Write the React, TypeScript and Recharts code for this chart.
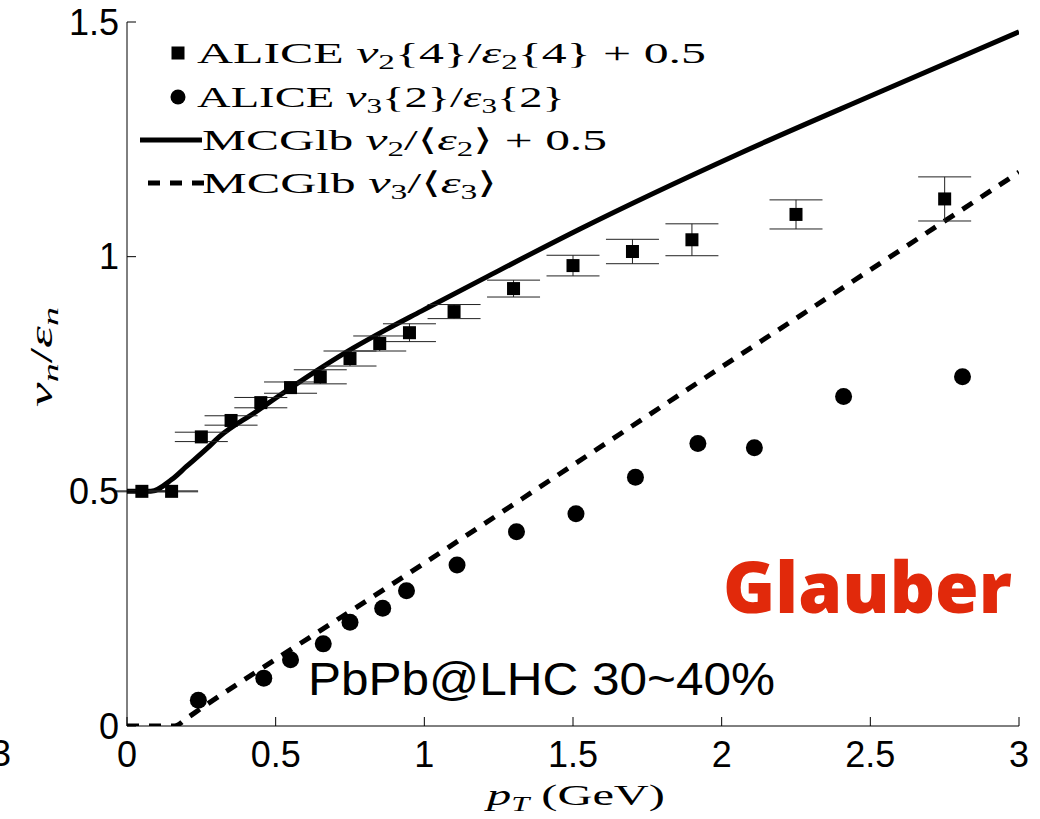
import { ComposedChart, Line, Scatter, XAxis, YAxis, ErrorBar } from 'recharts'

// ALICE v2{4}/eps2{4} + 0.5 (squares)
const v2Pt = [0.05, 0.15, 0.25, 0.35, 0.45, 0.55, 0.65, 0.75, 0.85, 0.95, 1.1, 1.3, 1.5, 1.7, 1.9, 2.25, 2.75]
const v2Ratio = [0.5, 0.5, 0.616, 0.651, 0.689, 0.721, 0.744, 0.783, 0.815, 0.838, 0.883, 0.932, 0.981, 1.011, 1.036, 1.09, 1.123]
const v2Err = [0.001, 0.001, 0.01, 0.01, 0.011, 0.012, 0.015, 0.016, 0.016, 0.019, 0.015, 0.018, 0.022, 0.026, 0.034, 0.031, 0.047]

// ALICE v3{2}/eps3{2} (circles)
const v3Pt = [0.24, 0.46, 0.55, 0.66, 0.75, 0.86, 0.94, 1.11, 1.31, 1.51, 1.71, 1.92, 2.11, 2.41, 2.81]
const v3Ratio = [0.055, 0.102, 0.141, 0.175, 0.221, 0.251, 0.288, 0.343, 0.414, 0.452, 0.53, 0.602, 0.593, 0.702, 0.744]

// MC-Glauber hydro curves
const mcV2Pt = [0, 0.08, 0.15, 0.2, 0.27, 0.31, 0.43, 0.54, 0.65, 0.76, 0.87, 0.99, 1.21, 1.52, 2.06, 2.51, 3.0]
const mcV2Ratio = [0.5, 0.5, 0.525, 0.553, 0.592, 0.616, 0.668, 0.716, 0.762, 0.805, 0.844, 0.884, 0.957, 1.058, 1.22, 1.345, 1.479]
const mcV3Pt = [0, 0.16, 0.2, 0.25, 0.5, 0.75, 1.0, 1.5, 2.0, 2.5, 3.0]
const mcV3Ratio = [0, 0, 0.016, 0.038, 0.142, 0.244, 0.347, 0.556, 0.765, 0.972, 1.18]

const xTicks = [0, 0.5, 1, 1.5, 2, 2.5, 3]
const yTicks = [0, 0.5, 1, 1.5]

const v2Data = v2Pt.map((x, i) => ({ x, y: v2Ratio[i], err: v2Err[i] }))
const v3Data = v3Pt.map((x, i) => ({ x, y: v3Ratio[i] }))
const mcV2Data = mcV2Pt.map((x, i) => ({ x, y: mcV2Ratio[i] }))
const mcV3Data = mcV3Pt.map((x, i) => ({ x, y: mcV3Ratio[i] }))

const serif = '"Liberation Serif", "DejaVu Serif", serif'
const sans = '"Liberation Sans", Arial, sans-serif'

const SquareDot = (p: any) => <rect x={p.cx - 6.5} y={p.cy - 6.5} width={13} height={13} fill="#000" />
const RoundDot = (p: any) => <circle cx={p.cx} cy={p.cy} r={8.5} fill="#000" />

const axisTick = { fill: '#000', fontSize: 36, fontFamily: sans }

function Overlay() {
  const sub = 20
  return (
    <svg width={1040} height={819} style={{ position: 'absolute', left: 0, top: 0, pointerEvents: 'none' }}>
      {/* legend */}
      <rect x={171.5} y={46.5} width={13} height={13} fill="#000" />
      <circle cx={178} cy={97} r={7.5} fill="#000" />
      <line x1={140} y1={140} x2={202} y2={140} stroke="#000" strokeWidth={5} />
      <line x1={148} y1={183} x2={204} y2={183} stroke="#000" strokeWidth={5} strokeDasharray="12 10" />
      <g fontFamily={serif} fontSize={30} fill="#000">
        <text x={197} y={63} textLength={509} lengthAdjust="spacingAndGlyphs">
          ALICE <tspan fontStyle="italic">v</tspan><tspan fontSize={sub} dy={6}>2</tspan><tspan dy={-6}>{'{4}/'}</tspan><tspan fontStyle="italic">ε</tspan><tspan fontSize={sub} dy={6}>2</tspan><tspan dy={-6}>{'{4} + 0.5'}</tspan>
        </text>
        <text x={197} y={107} textLength={368} lengthAdjust="spacingAndGlyphs">
          ALICE <tspan fontStyle="italic">v</tspan><tspan fontSize={sub} dy={6}>3</tspan><tspan dy={-6}>{'{2}/'}</tspan><tspan fontStyle="italic">ε</tspan><tspan fontSize={sub} dy={6}>3</tspan><tspan dy={-6}>{'{2}'}</tspan>
        </text>
        <text x={202} y={150} textLength={405} lengthAdjust="spacingAndGlyphs">
          MCGlb <tspan fontStyle="italic">v</tspan><tspan fontSize={sub} dy={6}>2</tspan><tspan dy={-6}>{'/⟨'}</tspan><tspan fontStyle="italic">ε</tspan><tspan fontSize={sub} dy={6}>2</tspan><tspan dy={-6}>{'⟩ + 0.5'}</tspan>
        </text>
        <text x={202} y={193} textLength={295} lengthAdjust="spacingAndGlyphs">
          MCGlb <tspan fontStyle="italic">v</tspan><tspan fontSize={sub} dy={6}>3</tspan><tspan dy={-6}>{'/⟨'}</tspan><tspan fontStyle="italic">ε</tspan><tspan fontSize={sub} dy={6}>3</tspan><tspan dy={-6}>{'⟩'}</tspan>
        </text>
      </g>
      {/* axis titles */}
      <text x={487} y={805} fontFamily={serif} fontSize={30} textLength={178} lengthAdjust="spacingAndGlyphs">
        <tspan fontStyle="italic">p</tspan><tspan fontSize={sub} dy={6} fontStyle="italic">T</tspan><tspan dy={-6}> (GeV)</tspan>
      </text>
      <text transform="translate(52,357) rotate(-90)" textAnchor="middle" fontFamily={serif} fontSize={32} textLength={100} lengthAdjust="spacingAndGlyphs">
        <tspan fontStyle="italic">v</tspan><tspan fontSize={22} dy={6} fontStyle="italic">n</tspan><tspan dy={-6}>/</tspan><tspan fontStyle="italic">ε</tspan><tspan fontSize={22} dy={6} fontStyle="italic">n</tspan>
      </text>
      {/* annotations */}
      <text x={308} y={695} fontFamily={sans} fontSize={46} textLength={467} lengthAdjust="spacingAndGlyphs">PbPb@LHC 30~40%</text>
      <text x={723} y={613} fontFamily='"Open Sans", "Liberation Sans", sans-serif' fontWeight={800} fontSize={70} fill="#e1290b" textLength={289} lengthAdjust="spacingAndGlyphs">Glauber</text>
      <text x={11} y={766} textAnchor="end" fontFamily={sans} fontSize={36}>3</text>
    </svg>
  )
}

export default function App() {
  return (
    <div style={{ position: 'absolute', left: 0, top: 0, width: 1040, height: 819, background: '#fff' }}>
      <ComposedChart width={1040} height={819} margin={{ top: 22, right: 21, bottom: 0, left: 0 }}>
        <XAxis type="number" dataKey="x" domain={[0, 3]} ticks={xTicks} allowDataOverflow height={93}
          tickSize={-9} tickMargin={24} tick={axisTick} axisLine={{ stroke: '#000' }} tickLine={{ stroke: '#000' }} />
        <XAxis xAxisId="top" orientation="top" type="number" domain={[0, 3]} ticks={xTicks} height={0}
          tickSize={-9} tick={false} axisLine={{ stroke: '#000' }} tickLine={{ stroke: '#000' }} />
        <YAxis type="number" domain={[0, 1.5]} ticks={yTicks} allowDataOverflow width={127}
          tickSize={-9} tickMargin={17} tick={axisTick} axisLine={{ stroke: '#000' }} tickLine={{ stroke: '#000' }} />
        <YAxis yAxisId="right" orientation="right" type="number" domain={[0, 1.5]} ticks={yTicks} width={0}
          tickSize={-9} tick={false} axisLine={{ stroke: '#000' }} tickLine={{ stroke: '#000' }} />
        <Line data={mcV2Data} dataKey="y" type="monotone" stroke="#000" strokeWidth={5} dot={false} isAnimationActive={false} />
        <Line data={mcV3Data} dataKey="y" type="monotone" stroke="#000" strokeWidth={5} strokeDasharray="12 10" dot={false} isAnimationActive={false} />
        <Scatter data={v2Data} dataKey="y" shape={SquareDot} isAnimationActive={false}>
          <ErrorBar dataKey="err" direction="y" width={26.5} stroke="#222" strokeWidth={1} />
        </Scatter>
        <Scatter data={v3Data} dataKey="y" shape={RoundDot} isAnimationActive={false} />
      </ComposedChart>
      <Overlay />
    </div>
  )
}
